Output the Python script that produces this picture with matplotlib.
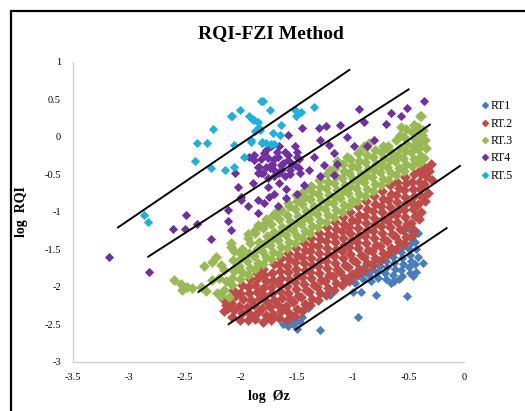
import matplotlib
matplotlib.use("Agg")
from matplotlib import pyplot as plt
from matplotlib.lines import Line2D
import numpy as np

plt.rcParams["font.family"] = ["Liberation Serif", "DejaVu Serif"]
plt.rcParams["axes.unicode_minus"] = False

# points (log Phi_z, log RQI)
rt1 = [
    (-1.60, -2.47), (-1.56, -2.42), (-1.53, -2.50), (-1.58, -2.53), (-1.50, -2.56),
    (-1.47, -2.47), (-1.45, -2.40), (-1.52, -2.44), (-1.55, -2.38), (-1.62, -2.50),
    (-1.40, -2.29), (-1.29, -2.58), (-1.20, -2.11), (-0.95, -2.40), (-1.00, -2.07),
    (-0.93, -2.07), (-0.79, -2.11), (-0.51, -2.13), (-0.37, -1.69),
    (-1.08, -1.95), (-1.05, -1.88), (-0.98, -1.95), (-0.99, -1.86), (-0.97, -1.80),
    (-0.91, -1.90), (-0.92, -1.82), (-0.90, -1.74), (-0.84, -1.93), (-0.85, -1.85),
    (-0.83, -1.77), (-0.84, -1.70), (-0.77, -1.88), (-0.78, -1.80), (-0.76, -1.72),
    (-0.77, -1.64), (-0.70, -1.90), (-0.71, -1.82), (-0.69, -1.74), (-0.70, -1.66),
    (-0.71, -1.58), (-0.63, -1.92), (-0.64, -1.84), (-0.62, -1.76), (-0.63, -1.68),
    (-0.64, -1.60), (-0.62, -1.52), (-0.56, -1.86), (-0.57, -1.78), (-0.55, -1.70),
    (-0.56, -1.62), (-0.57, -1.54), (-0.55, -1.46), (-0.49, -1.82), (-0.50, -1.74),
    (-0.48, -1.66), (-0.49, -1.58), (-0.50, -1.50), (-0.48, -1.42), (-0.49, -1.34),
    (-0.43, -1.80), (-0.44, -1.70), (-0.42, -1.60), (-0.43, -1.50), (-0.44, -1.40),
    (-0.42, -1.29), (-0.49, -1.24), (-0.66, -1.95), (-0.59, -1.90), (-0.46, -1.86),
]

rt2 = [
    (-2.15, -2.33), (-2.13, -2.24), (-2.16, -2.16), (-2.12, -2.29),
    (-2.08, -2.40), (-2.06, -2.31), (-2.09, -2.22), (-2.05, -2.13), (-2.07, -2.04),
    (-2.01, -2.44), (-1.99, -2.35), (-2.02, -2.26), (-1.98, -2.17), (-2.01, -2.08), (-1.99, -1.98),
    (-1.94, -2.45), (-1.92, -2.36), (-1.95, -2.27), (-1.91, -2.18), (-1.93, -2.09), (-1.94, -2.00), (-1.92, -1.90),
    (-1.87, -2.43), (-1.85, -2.34), (-1.88, -2.25), (-1.84, -2.16), (-1.86, -2.07), (-1.87, -1.98),
    (-1.85, -1.89), (-1.86, -1.82),
    (-1.80, -2.47), (-1.78, -2.38), (-1.81, -2.29), (-1.77, -2.20), (-1.79, -2.11), (-1.80, -2.02),
    (-1.78, -1.93), (-1.79, -1.84), (-1.80, -1.76),
    (-1.73, -2.45), (-1.71, -2.36), (-1.74, -2.27), (-1.70, -2.18), (-1.72, -2.09), (-1.73, -2.00),
    (-1.71, -1.91), (-1.72, -1.82), (-1.70, -1.70),
    (-1.66, -2.42), (-1.64, -2.33), (-1.67, -2.24), (-1.63, -2.15), (-1.65, -2.06), (-1.66, -1.97),
    (-1.64, -1.88), (-1.65, -1.79), (-1.66, -1.70), (-1.64, -1.62),
    (-1.59, -2.44), (-1.57, -2.35), (-1.60, -2.26), (-1.56, -2.17), (-1.58, -2.08), (-1.59, -1.99),
    (-1.57, -1.90), (-1.58, -1.81), (-1.59, -1.72), (-1.57, -1.63), (-1.58, -1.55),
    (-1.52, -2.39), (-1.50, -2.30), (-1.53, -2.21), (-1.49, -2.12), (-1.51, -2.03), (-1.52, -1.94),
    (-1.50, -1.85), (-1.51, -1.76), (-1.52, -1.67), (-1.50, -1.58), (-1.51, -1.49),
    (-1.45, -2.32), (-1.43, -2.23), (-1.46, -2.14), (-1.42, -2.05), (-1.44, -1.96), (-1.45, -1.87),
    (-1.43, -1.78), (-1.44, -1.69), (-1.45, -1.60), (-1.43, -1.51), (-1.44, -1.42),
    (-1.38, -2.25), (-1.36, -2.16), (-1.39, -2.07), (-1.35, -1.98), (-1.37, -1.89), (-1.38, -1.80),
    (-1.36, -1.71), (-1.37, -1.62), (-1.38, -1.53), (-1.36, -1.44), (-1.37, -1.35),
    (-1.31, -2.18), (-1.29, -2.09), (-1.32, -2.00), (-1.28, -1.91), (-1.30, -1.82), (-1.31, -1.73),
    (-1.29, -1.64), (-1.30, -1.55), (-1.31, -1.46), (-1.29, -1.37), (-1.30, -1.28),
    (-1.24, -2.11), (-1.22, -2.02), (-1.25, -1.93), (-1.21, -1.84), (-1.23, -1.75), (-1.24, -1.66),
    (-1.22, -1.57), (-1.23, -1.48), (-1.24, -1.39), (-1.22, -1.30), (-1.23, -1.21),
    (-1.17, -2.04), (-1.15, -1.95), (-1.18, -1.86), (-1.14, -1.77), (-1.16, -1.68), (-1.17, -1.59),
    (-1.15, -1.50), (-1.16, -1.41), (-1.17, -1.32), (-1.15, -1.23), (-1.16, -1.14),
    (-1.10, -1.98), (-1.08, -1.89), (-1.11, -1.80), (-1.07, -1.71), (-1.09, -1.62), (-1.10, -1.53),
    (-1.08, -1.44), (-1.09, -1.35), (-1.10, -1.26), (-1.08, -1.17), (-1.09, -1.07),
    (-1.03, -1.92), (-1.01, -1.83), (-1.04, -1.74), (-1.00, -1.65), (-1.02, -1.56), (-1.03, -1.47),
    (-1.01, -1.38), (-1.02, -1.29), (-1.03, -1.20), (-1.01, -1.11), (-1.02, -1.00),
    (-0.96, -1.85), (-0.94, -1.76), (-0.97, -1.67), (-0.93, -1.58), (-0.95, -1.49), (-0.96, -1.40),
    (-0.94, -1.31), (-0.95, -1.22), (-0.96, -1.13), (-0.94, -1.04), (-0.95, -0.93),
    (-0.89, -1.78), (-0.87, -1.69), (-0.90, -1.60), (-0.86, -1.51), (-0.88, -1.42), (-0.89, -1.33),
    (-0.87, -1.24), (-0.88, -1.15), (-0.89, -1.06), (-0.87, -0.97), (-0.88, -0.86),
    (-0.82, -1.71), (-0.80, -1.62), (-0.83, -1.53), (-0.79, -1.44), (-0.81, -1.35), (-0.82, -1.26),
    (-0.80, -1.17), (-0.81, -1.08), (-0.82, -0.99), (-0.80, -0.90), (-0.81, -0.79),
    (-0.75, -1.64), (-0.73, -1.55), (-0.76, -1.46), (-0.72, -1.37), (-0.74, -1.28), (-0.75, -1.19),
    (-0.73, -1.10), (-0.74, -1.01), (-0.75, -0.92), (-0.73, -0.83), (-0.74, -0.72),
    (-0.68, -1.57), (-0.66, -1.48), (-0.69, -1.39), (-0.65, -1.30), (-0.67, -1.21), (-0.68, -1.12),
    (-0.66, -1.03), (-0.67, -0.94), (-0.68, -0.85), (-0.66, -0.76), (-0.67, -0.65),
    (-0.61, -1.50), (-0.59, -1.41), (-0.62, -1.32), (-0.58, -1.23), (-0.60, -1.14), (-0.61, -1.05),
    (-0.59, -0.96), (-0.60, -0.87), (-0.61, -0.78), (-0.59, -0.69), (-0.60, -0.60),
    (-0.54, -1.43), (-0.52, -1.34), (-0.55, -1.25), (-0.51, -1.16), (-0.53, -1.07), (-0.54, -0.98),
    (-0.52, -0.89), (-0.53, -0.80), (-0.54, -0.71), (-0.52, -0.62), (-0.53, -0.54),
    (-0.47, -1.33), (-0.45, -1.24), (-0.48, -1.15), (-0.44, -1.06), (-0.46, -0.97), (-0.47, -0.88),
    (-0.45, -0.79), (-0.46, -0.70), (-0.47, -0.61), (-0.45, -0.50),
    (-0.41, -1.10), (-0.39, -1.00), (-0.42, -0.90), (-0.38, -0.80), (-0.40, -0.70), (-0.41, -0.60),
    (-0.39, -0.50), (-0.40, -0.44),
    (-0.35, -0.86), (-0.33, -0.75), (-0.36, -0.63), (-0.34, -0.52), (-0.35, -0.42),
    (-0.29, -0.58), (-0.30, -0.36), (-0.32, -0.46),
]

rt3 = [
    (-2.60, -1.91), (-2.54, -1.96), (-2.53, -2.04), (-2.48, -2.00), (-2.44, -2.02),
    (-2.36, -2.00), (-2.31, -2.06), (-2.26, -1.91), (-2.21, -2.09), (-2.18, -2.13),
    (-2.15, -2.04), (-2.11, -2.14), (-2.26, -1.67), (-2.18, -1.71), (-2.09, -1.42),
    (-2.06, -1.53), (-2.00, -1.56), (-1.94, -1.35), (-1.87, -1.24), (-1.79, -1.16),
    (-2.33, -1.73), (-2.22, -1.60), (-2.15, -1.78), (-2.20, -1.88), (-2.13, -1.93),
    (-2.08, -1.98), (-2.08, -1.88), (-2.06, -1.79), (-2.07, -1.64), (-2.09, -1.47),
    (-2.01, -1.90), (-1.99, -1.81), (-2.02, -1.72), (-2.00, -1.62), (-1.99, -1.50),
    (-1.94, -1.84), (-1.92, -1.75), (-1.95, -1.66), (-1.93, -1.55), (-1.92, -1.42), (-1.94, -1.30),
    (-1.87, -1.77), (-1.85, -1.68), (-1.88, -1.59), (-1.86, -1.50), (-1.84, -1.40), (-1.87, -1.28),
    (-1.85, -1.18),
    (-1.80, -1.70), (-1.78, -1.61), (-1.81, -1.52), (-1.79, -1.43), (-1.77, -1.33), (-1.80, -1.22),
    (-1.78, -1.10),
    (-1.73, -1.63), (-1.71, -1.54), (-1.74, -1.45), (-1.72, -1.36), (-1.70, -1.27), (-1.73, -1.17),
    (-1.71, -1.05),
    (-1.66, -1.56), (-1.64, -1.47), (-1.67, -1.38), (-1.65, -1.29), (-1.63, -1.20), (-1.66, -1.10),
    (-1.64, -0.98),
    (-1.59, -1.49), (-1.57, -1.40), (-1.60, -1.31), (-1.58, -1.22), (-1.56, -1.13), (-1.59, -1.04),
    (-1.57, -0.92),
    (-1.52, -1.42), (-1.50, -1.33), (-1.53, -1.24), (-1.51, -1.15), (-1.49, -1.06), (-1.52, -0.97),
    (-1.50, -0.86), (-1.51, -0.78),
    (-1.45, -1.35), (-1.43, -1.26), (-1.46, -1.17), (-1.44, -1.08), (-1.42, -0.99), (-1.45, -0.90),
    (-1.43, -0.80), (-1.44, -0.72),
    (-1.38, -1.28), (-1.36, -1.19), (-1.39, -1.10), (-1.37, -1.01), (-1.35, -0.92), (-1.38, -0.83),
    (-1.36, -0.74), (-1.37, -0.66),
    (-1.31, -1.21), (-1.29, -1.12), (-1.32, -1.03), (-1.30, -0.94), (-1.28, -0.85), (-1.31, -0.76),
    (-1.29, -0.67), (-1.30, -0.58),
    (-1.24, -1.14), (-1.22, -1.05), (-1.25, -0.96), (-1.23, -0.87), (-1.21, -0.78), (-1.24, -0.69),
    (-1.22, -0.60), (-1.23, -0.50),
    (-1.17, -1.07), (-1.15, -0.98), (-1.18, -0.89), (-1.16, -0.80), (-1.14, -0.71), (-1.17, -0.62),
    (-1.15, -0.53), (-1.16, -0.42),
    (-1.10, -1.00), (-1.08, -0.91), (-1.11, -0.82), (-1.09, -0.73), (-1.07, -0.64), (-1.10, -0.55),
    (-1.08, -0.46), (-1.09, -0.36),
    (-1.03, -0.93), (-1.01, -0.84), (-1.04, -0.75), (-1.02, -0.66), (-1.00, -0.57), (-1.03, -0.48),
    (-1.01, -0.39), (-1.02, -0.30),
    (-0.96, -0.86), (-0.94, -0.77), (-0.97, -0.68), (-0.95, -0.59), (-0.93, -0.50), (-0.96, -0.41),
    (-0.94, -0.32), (-0.95, -0.22),
    (-0.89, -0.79), (-0.87, -0.70), (-0.90, -0.61), (-0.88, -0.52), (-0.86, -0.43), (-0.89, -0.34),
    (-0.87, -0.25), (-0.88, -0.14),
    (-0.82, -0.72), (-0.80, -0.63), (-0.83, -0.54), (-0.81, -0.45), (-0.79, -0.36), (-0.82, -0.27),
    (-0.80, -0.18),
    (-0.75, -0.65), (-0.73, -0.56), (-0.76, -0.47), (-0.74, -0.38), (-0.72, -0.29), (-0.75, -0.20),
    (-0.73, -0.12),
    (-0.68, -0.58), (-0.66, -0.49), (-0.69, -0.40), (-0.67, -0.31), (-0.65, -0.22), (-0.68, -0.13),
    (-0.61, -0.51), (-0.59, -0.42), (-0.62, -0.33), (-0.60, -0.24), (-0.58, -0.15), (-0.61, -0.05),
    (-0.54, -0.46), (-0.52, -0.37), (-0.55, -0.28), (-0.53, -0.19), (-0.51, -0.10), (-0.54, 0.00),
    (-0.52, 0.10),
    (-0.47, -0.39), (-0.45, -0.30), (-0.48, -0.21), (-0.46, -0.12), (-0.44, -0.03), (-0.47, 0.06),
    (-0.45, 0.15),
    (-0.41, -0.35), (-0.39, -0.26), (-0.42, -0.17), (-0.40, -0.08), (-0.38, 0.02), (-0.41, 0.10),
    (-0.36, -0.28), (-0.34, -0.15), (-0.35, -0.05),
    (-1.69, -1.00), (-1.58, -0.89), (-1.47, -0.78), (-1.38, -0.67), (-1.29, -0.58), (-1.20, -0.44),
    (-1.14, -0.33), (-1.05, -0.27), (-0.94, -0.20), (-0.90, -0.13), (-0.85, -0.09), (-0.69, -0.15),
    (-0.57, 0.13), (-0.58, 0.02), (-0.39, 0.27), (-0.42, 0.13), (-0.37, 0.09), (-0.45, 0.16),
    (-0.40, 0.27),
]

rt4 = [
    (-3.18, -1.61), (-2.82, -1.80), (-2.61, -1.23), (-2.50, -1.23), (-2.49, -1.04),
    (-2.39, -1.16), (-2.27, -1.36), (-2.12, -1.12), (-2.09, -1.24), (-2.05, -0.49),
    (-2.03, -0.67), (-2.00, -0.84), (-1.94, -0.93), (-1.89, -0.62), (-1.85, -1.02),
    (-1.85, -0.84), (-1.79, -0.89), (-1.76, -0.67), (-1.75, -0.80), (-1.70, -0.76),
    (-1.67, -0.93), (-1.79, -0.22), (-1.76, -0.29), (-1.72, -0.36), (-1.67, -0.27),
    (-1.64, -0.38), (-1.61, -0.20), (-1.58, -0.31), (-1.56, -0.44), (-1.52, -0.13),
    (-1.50, -0.27), (-1.47, -0.49), (-1.44, -0.64), (-1.58, 0.02), (-1.45, 0.11),
    (-1.30, 0.11), (-1.24, 0.14), (-1.11, 0.16), (-0.94, 0.37), (-0.90, 0.20),
    (-0.70, 0.17), (-0.66, 0.31), (-0.57, 0.27), (-0.51, 0.38), (-0.36, 0.47),
    (-1.29, -0.04), (-1.21, -0.11), (-1.17, -0.22), (-1.05, 0.00), (-0.99, -0.13),
    (-1.14, -0.36), (-1.26, -0.38), (-1.35, -0.27), (-1.29, -0.53), (-1.17, -0.51),
    (-0.81, -0.04), (-0.87, -0.13), (-1.88, -0.31), (-1.85, -0.40), (-1.82, -0.49),
    (-1.78, -0.40), (-1.70, -0.44), (-1.66, -0.49), (-1.61, -0.53), (-1.73, -0.13),
    (-1.66, -0.13), (-1.54, -0.36), (-1.48, -0.42), (-1.39, -0.44), (-1.85, -0.49),
    (-1.93, -0.27), (-2.00, -0.80), (-2.12, -0.98), (-1.60, -0.82), (-1.50, -0.76),
    (-1.88, -0.25), (-1.82, -0.30), (-1.78, -0.18), (-1.74, -0.42), (-1.70, -0.30),
    (-1.68, -0.20), (-1.64, -0.45), (-1.62, -0.35), (-1.58, -0.25), (-1.56, -0.50),
    (-1.52, -0.38), (-1.50, -0.20), (-1.48, -0.30), (-1.70, -0.52), (-1.76, -0.55),
    (-1.84, -0.40), (-1.66, -0.62), (-1.60, -0.70), (-1.72, -0.38), (-1.80, -0.48),
]

rt5 = [
    (-1.82, 0.48), (-2.01, 0.36), (-2.09, 0.28), (-1.93, 0.27), (-1.90, 0.24),
    (-1.52, 0.36), (-1.35, 0.40), (-1.74, 0.36), (-2.25, 0.10), (-1.85, 0.12),
    (-1.87, 0.08), (-1.83, 0.09), (-1.71, 0.05), (-1.65, 0.02), (-2.06, -0.11),
    (-2.39, -0.08), (-2.30, -0.09), (-1.91, -0.07), (-1.81, -0.09), (-1.73, -0.10),
    (-1.70, -0.10), (-1.97, -0.27), (-2.41, -0.32), (-2.27, -0.42), (-2.14, -0.44),
    (-2.06, -0.40), (-2.87, -1.04), (-2.83, -1.14), (-1.88, 0.22), (-1.85, 0.20),
    (-1.84, 0.11), (-1.81, -0.07), (-1.78, -0.09), (-1.64, 0.16), (-1.51, 0.27),
    (-1.46, 0.33), (-2.08, 0.27), (-1.91, -0.04), (-1.80, 0.48),
]

series = [rt1, rt2, rt3, rt4, rt5]
labels = ["RT1", "RT.2", "RT.3", "RT4", "RT.5"]
colors = ["#4A7EBB", "#BE4B48", "#98B954", "#7030A0", "#1FB0DC"]

# iso-FZI lines, endpoints
line_x = [(-3.10, -1.03), (-2.83, -0.50), (-2.38, -0.31), (-2.11, -0.04), (-1.51, -0.16)]
line_y = [(-1.21, 0.89), (-1.60, 0.63), (-2.07, 0.16), (-2.50, -0.39), (-2.57, -1.22)]

xticks = [-3.5, -3, -2.5, -2, -1.5, -1, -0.5, 0]
yticks = [-3, -2.5, -2, -1.5, -1, -0.5, 0, 0.5, 1]

fig = plt.figure(figsize=(5.25, 4.11), dpi=100)
ax = fig.add_axes([0.1397, 0.120, 0.745, 0.730])

sizes = [22, 30, 30, 22, 22]
for pts, lab, col, sz in zip(series, labels, colors, sizes):
    arr = np.array(pts)
    ax.scatter(arr[:, 0], arr[:, 1], marker="D", s=sz, c=col, linewidths=0, label=lab, zorder=2)

for lx, ly in zip(line_x, line_y):
    ax.plot(lx, ly, color="black", lw=1.4, zorder=3)

ax.set_xlim(-3.5, 0)
ax.set_ylim(-3, 1)
ax.set_xticks(xticks)
ax.set_yticks(yticks)
ax.set_xticklabels([f"{t:g}" for t in xticks])
ax.set_yticklabels([f"{t:g}" for t in yticks])
ax.tick_params(length=0, labelsize=7.5, pad=8)
ax.tick_params(axis="y", pad=9)
for s in ["top", "right"]:
    ax.spines[s].set_visible(False)
for s in ["left", "bottom"]:
    ax.spines[s].set_color("#D0D0D0")
    ax.spines[s].set_linewidth(1.0)

ax.set_xlabel("log  Øz", fontsize=10, fontweight="bold", labelpad=6)
ax.set_ylabel("log  RQI", fontsize=10, fontweight="bold", labelpad=12)
fig.text(0.517, 0.918, "RQI-FZI Method", ha="center", va="center",
         fontsize=14, fontweight="bold")

handles = [Line2D([], [], marker="D", ls="none", ms=3, color=c, mec=c) for c in colors]
fig.legend(handles, labels, loc="upper left", bbox_to_anchor=(0.905, 0.77),
           frameon=False, fontsize=8.5, handlelength=0.6, handletextpad=0.25,
           labelspacing=0.45, borderpad=0)

# outer border of the chart area (picture is cropped on the right/bottom)
frame = plt.Rectangle((11 / 525, -0.1), 1.2, 1.1 - 11 / 411, transform=fig.transFigure,
                      fill=False, ec="black", lw=1.6)
fig.patches.append(frame)

fig.savefig("out.png", dpi=100)
